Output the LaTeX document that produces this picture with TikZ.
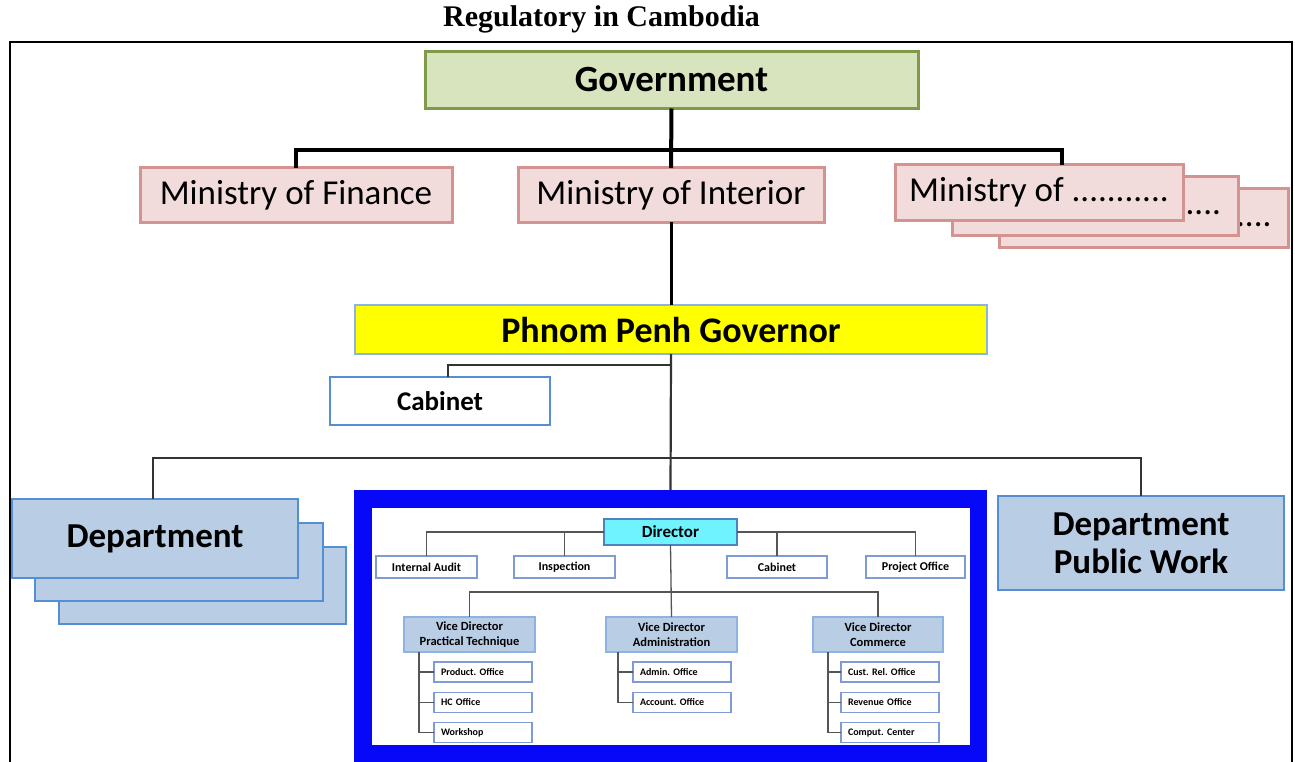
\documentclass[tikz,border=0pt]{standalone}
\usepackage{fontspec}
\setmainfont{Carlito}
\newfontfamily\titlefont{Liberation Serif}
\usetikzlibrary{calc}
\frenchspacing

\definecolor{govfill}{HTML}{D7E4BD}
\definecolor{govline}{HTML}{7F9A48}
\definecolor{minfill}{HTML}{F2DCDB}
\definecolor{minline}{HTML}{D39391}
\definecolor{ppgfill}{HTML}{FFFF00}
\definecolor{ppgline}{HTML}{8DB3E2}
\definecolor{bluelinef}{HTML}{558ED5}
\definecolor{deptfill}{HTML}{B9CDE5}
\definecolor{unitblue}{HTML}{0808F8}
\definecolor{dirfill}{HTML}{6FF3FF}
\definecolor{dirline}{HTML}{4F81BD}
\definecolor{smallline}{HTML}{7F9BD6}
\definecolor{viceline}{HTML}{8DB3E2}
\definecolor{wire}{HTML}{333333}
\definecolor{thinwire}{HTML}{555555}

\tikzset{
  box/.style={draw, inner sep=0pt, outer sep=0pt, align=center},
  govbox/.style={box, fill=govfill, draw=govline, line width=3pt,
    font=\bfseries\fontsize{37}{40}\selectfont},
  minbox/.style={box, fill=minfill, draw=minline, line width=3pt,
    font=\fontsize{35}{38}\selectfont},
  backmin/.style={minbox, align=right, inner xsep=17pt},
  ppgbox/.style={box, fill=ppgfill, draw=ppgline, line width=2.5pt,
    font=\bfseries\fontsize{36}{40}\selectfont},
  cabbox/.style={box, fill=white, draw=bluelinef, line width=2.5pt,
    font=\bfseries\fontsize{27}{30}\selectfont},
  deptbox/.style={box, fill=deptfill, draw=bluelinef, line width=2pt,
    font=\bfseries\fontsize{35}{38}\selectfont},
  dirbox/.style={box, fill=dirfill, draw=dirline, line width=1.5pt,
    font=\bfseries\fontsize{17}{19}\selectfont},
  staffbox/.style={box, fill=white, draw=smallline, line width=1.3pt,
    font=\bfseries\fontsize{12}{14}\selectfont, minimum height=22},
  vicebox/.style={box, fill=deptfill, draw=viceline, line width=1.3pt,
    font=\bfseries\fontsize{12.5}{15}\selectfont, minimum width=131, minimum height=35},
  officebox/.style={box, fill=white, draw=smallline, line width=1.2pt,
    font=\bfseries\fontsize{10}{12}\selectfont, align=left,
    text width=84, inner xsep=7pt, minimum height=20},
  topline/.style={draw=black, line width=4pt},
  midline/.style={draw=black, line width=3pt},
  lowline/.style={draw=wire, line width=2.2pt},
  treeline/.style={draw=thinwire, line width=1.3pt},
}

\begin{document}
\begin{tikzpicture}[x=1pt,y=-1pt]
\clip (0,0) rectangle (1295,762);
\fill[white] (0,0) rectangle (1295,762);

% heading and outer frame
\node[font=\titlefont\bfseries\fontsize{30}{32}\selectfont, anchor=base, inner sep=0pt]
  (title) at (601.5,27) {Regulatory in Cambodia};
\draw[line width=2.5pt] (10,775) -- (10,42) -- (1292,42) -- (1292,775);

% government and ministries
\node[govbox, minimum width=493, minimum height=57] (gov) at (671.5,80) {Government};
\node[minbox, minimum width=312, minimum height=54] (fin) at (296,195) {Ministry of Finance};
\node[minbox, minimum width=306, minimum height=54] (int) at (671,195) {Ministry of Interior};
% stacked "other ministries" cards, back to front
\node[backmin, text width=255, minimum height=58] (oth3) at (1144,218) {\vphantom{My}....};
\node[backmin, text width=252, minimum height=58] (oth2) at (1095,206) {\vphantom{My}....};
\node[minbox, minimum width=288, minimum height=55] (oth1) at (1039,192.5) {Ministry of ...........};

\coordinate (topbar) at (671,150);
\draw[topline] (gov.south) -- (int.north);
\draw[topline] (topbar) -| (fin.north);
\draw[topline] (topbar) -| ([xshift=23pt]oth1.north);

% governor level
\node[ppgbox, minimum width=632, minimum height=49] (ppg) at (671,329.5) {Phnom Penh Governor};
\draw[midline] (int.south) -- (ppg.north);
\node[cabbox, minimum width=220, minimum height=48] (cab) at (440,401) {Cabinet};
\coordinate (cabj) at (671,365);
\draw[lowline] (cabj) -| ([xshift=8pt]cab.north);

% departments
\node[fill=unitblue, inner sep=0pt, outer sep=0pt, minimum width=633, minimum height=290] (unit) at (670.5,635) {};
\node[fill=white, inner sep=0pt, outer sep=0pt, minimum width=598, minimum height=237] (panel) at (671,626.5) {};
\draw[lowline] (ppg.south) -- (unit.north);

\node[deptbox, minimum width=287, minimum height=77] (dep3) at (202.5,585.5) {};
\node[deptbox, minimum width=288, minimum height=78] (dep2) at (179,562) {};
\node[deptbox, minimum width=286, minimum height=79] (dep1) at (155,538.5) {Department};
\node[deptbox, minimum width=286, minimum height=94] (dpw) at (1141,543) {Department\\Public Work};

\coordinate (deptbar) at (671,458);
\draw[lowline] (deptbar) -| ([xshift=-2pt]dep1.north);
\draw[lowline] (deptbar) -| (dpw.north);

% public works department chart
\node[dirbox, minimum width=133, minimum height=26] (dir) at (670.5,532) {Director};
\node[staffbox, minimum width=101] (ia) at (426.5,567) {Internal Audit};
\node[staffbox, minimum width=101] (insp) at (564.5,567) {Inspection};
\node[staffbox, minimum width=100] (cab2) at (777,567) {Cabinet};
\node[staffbox, minimum width=99] (po) at (915.5,567) {Project Office};
\draw[treeline] (dir.west) -| (ia.north);
\draw[treeline] (dir.west) -| (insp.north);
\draw[treeline] (dir.east) -| (cab2.north);
\draw[treeline] (dir.east) -| (po.north);

\node[vicebox] (vpt) at (469.5,634.5) {Vice Director\\Practical Technique};
\node[vicebox] (vadm) at (671.5,634.5) {Vice Director\\Administration};
\node[vicebox, minimum width=130] (vcom) at (878,634.5) {Vice Director\\Commerce};
\coordinate (vbar) at (670,592);
\draw[treeline] (dir.south) -- (vadm.north);
\draw[treeline] (vbar) -| (vpt.north);
\draw[treeline] (vbar) -| (vcom.north);

\node[officebox] (o11) at (483,672) {Product. Office};
\node[officebox] (o12) at (483,702.5) {HC Office};
\node[officebox] (o13) at (483,732.5) {Workshop};
\node[officebox] (o21) at (682,672) {Admin. Office};
\node[officebox] (o22) at (682,702.5) {Account. Office};
\node[officebox] (o31) at (890,672) {Cust. Rel. Office};
\node[officebox] (o32) at (890,702.5) {Revenue Office};
\node[officebox] (o33) at (890,732.5) {Comput. Center};

\coordinate (t1) at ($(vpt.south west)+(15,0)$);
\coordinate (t2) at ($(vadm.south west)+(12,0)$);
\coordinate (t3) at ($(vcom.south west)+(15,0)$);
\draw[treeline] (o13.west) -| (t1);
\draw[treeline] (o11.west) -- (o11.west -| t1);
\draw[treeline] (o12.west) -- (o12.west -| t1);
\draw[treeline] (o22.west) -| (t2);
\draw[treeline] (o21.west) -- (o21.west -| t2);
\draw[treeline] (o33.west) -| (t3);
\draw[treeline] (o31.west) -- (o31.west -| t3);
\draw[treeline] (o32.west) -- (o32.west -| t3);
\end{tikzpicture}
\end{document}
